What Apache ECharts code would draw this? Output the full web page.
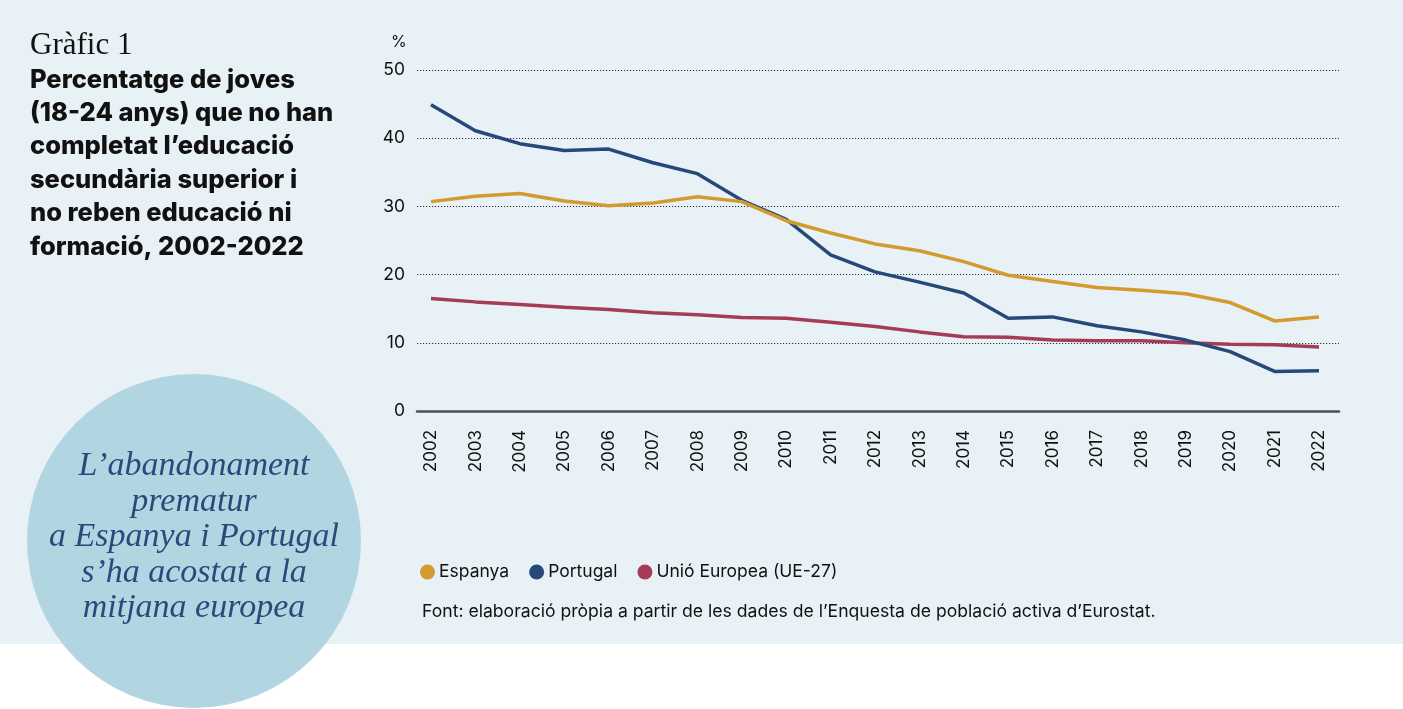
<!DOCTYPE html>
<html>
<head>
<meta charset="utf-8">
<script src="https://cdn.jsdelivr.net/npm/echarts@6/dist/echarts.min.js"></script>
<style>
html,body{margin:0;padding:0;background:#fff;}
#c{width:1403px;height:709px;background:linear-gradient(to bottom,#e8f1f5 0,#e8f1f5 644px,#ffffff 644px);}
</style>
</head>
<body>
<div id="c"></div>
<script>
const years = ['2002','2003','2004','2005','2006','2007','2008','2009','2010','2011','2012','2013','2014','2015','2016','2017','2018','2019','2020','2021','2022'];
const espanya = [30.7,31.5,31.9,30.8,30.1,30.5,31.4,30.7,27.9,26.1,24.5,23.5,21.9,19.9,19.0,18.1,17.7,17.2,15.9,13.2,13.8];
const portugal = [44.9,41.1,39.2,38.2,38.4,36.4,34.8,30.9,28.1,22.9,20.4,18.9,17.3,13.6,13.8,12.5,11.6,10.4,8.7,5.8,5.9];
const ue27 = [16.5,16.0,15.6,15.2,14.9,14.4,14.1,13.7,13.6,13.0,12.4,11.6,10.9,10.8,10.4,10.3,10.3,10.0,9.8,9.7,9.4];
const seriesNames = ['Espanya','Portugal','Unió Europea (UE-27)'];
const yTicks = {min:0, max:50, interval:10};

const chart = echarts.init(document.getElementById('c'), null, {renderer:'canvas'});
const sans = 'Inter, "Noto Sans", sans-serif';
const titleLines = ['Percentatge de joves','(18-24 anys) que no han','completat l\u2019educació','secundària superior i','no reben educació ni','formació, 2002-2022'];
const circleLines = ['L\u2019abandonament','prematur','a Espanya i Portugal','s\u2019ha acostat a la','mitjana europea'];

const graphics = [
  {type:'circle', shape:{cx:194, cy:541, r:167}, style:{fill:'#b2d6e1'}, z:-1},
  {type:'text', left:30, top:30, style:{text:'Gràfic 1', font:'31px "Liberation Serif", serif', fill:'#111'}},
  {type:'text', left:391, top:34, style:{text:'%', font:'16px '+sans, fill:'#111'}},
  {type:'text', left:422, top:603, style:{text:'Font: elaboració pròpia a partir de les dades de l\u2019Enquesta de població activa d\u2019Eurostat.', font:'17.6px '+sans, fill:'#111'}}
];
titleLines.forEach((t,i)=>{
  graphics.push({type:'text', x:30, y:80+i*33.4, style:{text:t, font:'800 25.5px '+sans, fill:'#111', verticalAlign:'middle'}});
});
circleLines.forEach((t,i)=>{
  graphics.push({type:'text', x:194, y:466+i*35.6, style:{text:t, font:'italic 34px "Liberation Serif", serif', fill:'#2a4a7c', align:'center', verticalAlign:'middle'}});
});

const colors = ['#d39a2e','#26497a','#a53b57'];
const datas = [espanya, portugal, ue27];

chart.setOption({
  animation:false,
  backgroundColor:'transparent',
  color:colors,
  graphic:graphics,
  grid:[
    {left:417, right:64, top:70, bottom:298},
    {left:431, right:84, top:70, bottom:298}
  ],
  xAxis:[
    {gridIndex:0, type:'value', min:0, max:1, axisLine:{show:true, onZero:false, lineStyle:{color:'#4a5156', width:2.5}}, axisTick:{show:false}, axisLabel:{show:false}, splitLine:{show:false}},
    {gridIndex:1, type:'category', data:years, boundaryGap:false, axisLine:{show:false}, axisTick:{show:false}, splitLine:{show:false},
     axisLabel:{rotate:90, margin:19, fontSize:17, fontFamily:sans, color:'#111'}}
  ],
  yAxis:[
    {gridIndex:0, type:'value', min:yTicks.min, max:yTicks.max, interval:yTicks.interval, axisLine:{show:false}, axisTick:{show:false},
     axisLabel:{fontSize:17.5, fontFamily:sans, color:'#111', margin:12},
     splitLine:{show:true, lineStyle:{color:'#333', type:[1.2,1.8], width:1}}},
    {gridIndex:1, type:'value', min:yTicks.min, max:yTicks.max, interval:yTicks.interval, show:false, splitLine:{show:false}}
  ],
  legend:{left:415, top:558, itemGap:20, itemWidth:15, itemHeight:15, icon:'circle',
    textStyle:{fontSize:17.5, fontFamily:sans, color:'#111', padding:[0,0,0,-1]}, data:seriesNames},
  series: seriesNames.map((n,i)=>({
    name:n, type:'line', xAxisIndex:1, yAxisIndex:1, data:datas[i], symbol:'none', showSymbol:false,
    lineStyle:{width:3.5, color:colors[i]}, itemStyle:{color:colors[i]}, z:3+(2-i)
  }))
});
</script>
</body>
</html>
